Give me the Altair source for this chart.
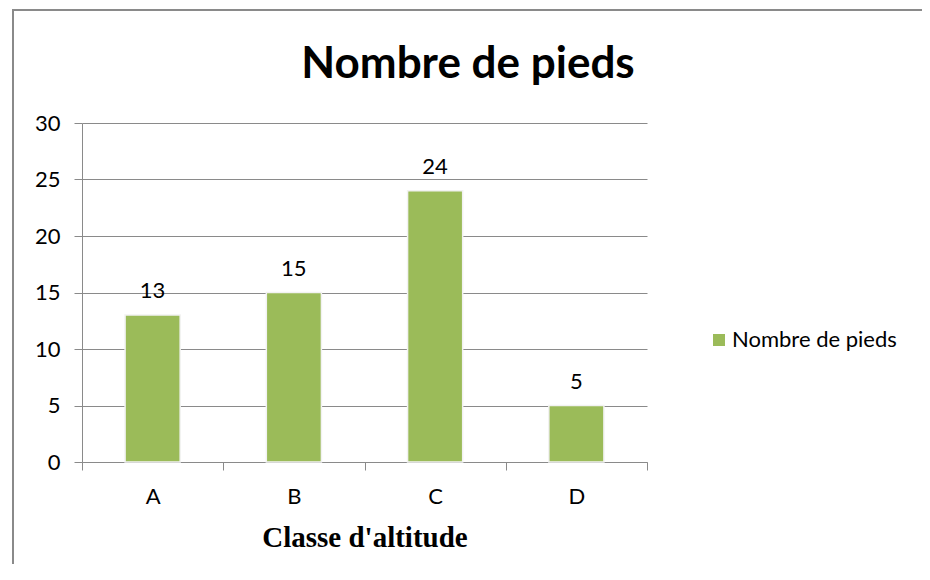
import altair as alt
import pandas as pd

categories = ["A", "B", "C", "D"]
values = [13, 15, 24, 5]
series_name = "Nombre de pieds"
chart_title = "Nombre de pieds"
x_title = "Classe d'altitude"

df = pd.DataFrame({"classe": categories, "pieds": values, "serie": [series_name] * len(categories)})

GREEN = "#9BBB59"
GRAY = "#8a8a8a"
FONT = "Lato"

x_enc = alt.X(
    "classe:N",
    title=x_title,
    sort=categories,
    scale=alt.Scale(paddingInner=0, paddingOuter=0),
    axis=alt.Axis(
        labelAngle=0, tickBand="extent", tickSize=8, tickColor=GRAY, domainColor=GRAY,
        labelFont=FONT, labelFontSize=22, labelColor="#000000", labelPadding=16,
        titleFont="Liberation Serif", titleFontSize=29, titleFontWeight="bold",
        titleColor="#000000", titlePadding=16, grid=False,
    ),
)
y_enc = alt.Y(
    "pieds:Q",
    title=None,
    scale=alt.Scale(domain=[0, 30]),
    axis=alt.Axis(
        values=[0, 5, 10, 15, 20, 25, 30], tickSize=8, tickColor=GRAY, domainColor=GRAY,
        gridColor=GRAY, labelFont=FONT, labelFontSize=22, labelColor="#000000",
        labelPadding=14,
    ),
)

bars = alt.Chart(df).mark_bar(
    width=alt.RelativeBandSize(0.39), stroke="#f2f2f2", strokeWidth=1.5
).encode(
    x=x_enc,
    y=y_enc,
    color=alt.Color(
        "serie:N",
        scale=alt.Scale(range=[GREEN]),
        legend=alt.Legend(
            title=None, orient="none", legendX=626, legendY=206, padding=0,
            symbolType="square", symbolSize=144, symbolStrokeWidth=0,
            labelFont=FONT, labelFontSize=22, labelColor="#000000", labelOffset=2,
            labelLimit=0,
        ),
    ),
)

labels = alt.Chart(df).mark_text(
    font=FONT, fontSize=22, color="#000000", baseline="alphabetic", dy=-17
).encode(x=alt.X("classe:N", sort=categories), y="pieds:Q", text="pieds:Q")

title_df = pd.DataFrame({"t": [chart_title]})
title = alt.Chart(title_df).mark_text(
    font=FONT, fontSize=44, fontWeight="bold", color="#000000", baseline="alphabetic"
).encode(x=alt.value(386), y=alt.value(-45), text="t:N")

border = alt.Chart(pd.DataFrame({"b": [0]})).mark_rect(
    fill="transparent", stroke=GRAY, strokeWidth=2
).encode(x=alt.value(-69), x2=alt.value(842), y=alt.value(-113), y2=alt.value(480))

chart = alt.layer(border, bars, labels, title).properties(
    width=565, height=339,
    padding={"left": 74, "top": 115, "right": 275, "bottom": 102},
    autosize=alt.AutoSizeParams(type="none"),
).configure_view(stroke=None)

chart.save("out.html", embed_options={"renderer": "svg", "actions": False})
